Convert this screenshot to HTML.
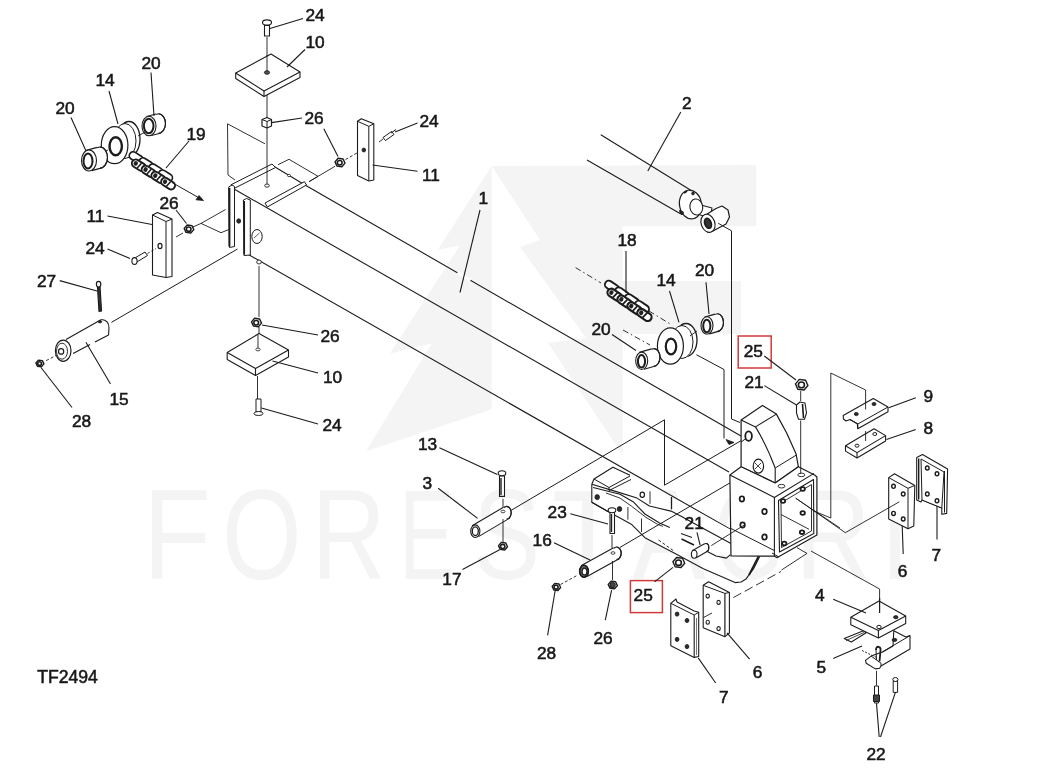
<!DOCTYPE html>
<html><head><meta charset="utf-8"><style>
html,body{margin:0;padding:0;background:#fff;width:1060px;height:777px;overflow:hidden}
svg{display:block;will-change:transform}
text{font-family:"Liberation Sans",sans-serif;fill:#181818;stroke:#181818;stroke-width:0.55px}
</style></head><body>
<svg width="1060" height="777" viewBox="0 0 1060 777">
<rect width="1060" height="777" fill="#fff"/>
<g fill="#f4f4f4"><path d="M491.6 166 L437.8 249.7 L459.7 245.8 L389.9 353.5 L431.8 343.5 L366 451.2 L491.6 409.3 Z"/><path d="M491.6 166 L756.3 165 L756.3 226.2 L622.5 226.2 L622.5 455 L548 343 L586 338 L520 247 L540 240 Z"/><path d="M622 281 L741 281 L741 334 L622 334 Z"/></g>
<text x="0" y="0" font-size="128" style="fill:#f4f4f4;stroke:none" transform="translate(142.7 579) scale(0.872 1)">F</text>
<text x="0" y="0" font-size="128" style="fill:#f4f4f4;stroke:none" transform="translate(221.9 579) scale(0.799 1)">O</text>
<text x="0" y="0" font-size="128" style="fill:#f4f4f4;stroke:none" transform="translate(311.4 579) scale(0.804 1)">R</text>
<text x="0" y="0" font-size="128" style="fill:#f4f4f4;stroke:none" transform="translate(399.1 579) scale(0.645 1)">E</text>
<text x="0" y="0" font-size="128" style="fill:#f4f4f4;stroke:none" transform="translate(473.0 579) scale(0.786 1)">S</text>
<text x="0" y="0" font-size="128" style="fill:#f4f4f4;stroke:none" transform="translate(552.1 579) scale(0.910 1)">T</text>
<text x="0" y="0" font-size="128" style="fill:#f4f4f4;stroke:none" transform="translate(632.0 579) scale(0.866 1)">A</text>
<text x="0" y="0" font-size="128" style="fill:#f4f4f4;stroke:none" transform="translate(713.5 579) scale(0.706 1)">G</text>
<text x="0" y="0" font-size="128" style="fill:#f4f4f4;stroke:none" transform="translate(795.3 579) scale(0.817 1)">R</text>
<text x="0" y="0" font-size="128" style="fill:#f4f4f4;stroke:none" transform="translate(880.1 579) scale(0.844 1)">I</text>
<path d="M272.5 165.5 L305.0 185.0 L741.0 436.0" fill="none" stroke="#1c1c1c" stroke-width="1.10" stroke-linejoin="round"/>
<path d="M234.0 189.0 L729.0 472.0" fill="none" stroke="#1c1c1c" stroke-width="1.10" stroke-linejoin="round"/>
<path d="M244.0 252.0 L772.0 553.0" fill="none" stroke="#1c1c1c" stroke-width="1.10" stroke-linejoin="round"/>
<path d="M231.0 184.8 L272.0 164.0 L275.5 167.5 L234.0 188.5Z" fill="#fff" stroke="#1c1c1c" stroke-width="1.00" stroke-linejoin="round"/>
<path d="M265.0 203.0 L304.4 181.7 L306.5 185.0 L267.3 207.0Z" fill="#fff" stroke="#1c1c1c" stroke-width="1.00" stroke-linejoin="round"/>
<path d="M228.7 187.0 L232.0 185.0 L234.5 186.5 L234.5 246.5 L229.5 247.5Z" fill="#fff" stroke="#1c1c1c" stroke-width="1.00" stroke-linejoin="round"/>
<path d="M229.4 188.0 L229.4 246.5" fill="none" stroke="#1c1c1c" stroke-width="2.00" stroke-linejoin="round"/>
<path d="M243.4 200.0 L246.5 198.5 L250.3 200.0 L250.3 255.0 L244.0 255.5Z" fill="#fff" stroke="#1c1c1c" stroke-width="1.00" stroke-linejoin="round"/>
<path d="M244.2 201.0 L244.2 254.5" fill="none" stroke="#1c1c1c" stroke-width="1.70" stroke-linejoin="round"/>
<ellipse cx="257.0" cy="236.5" rx="5.2" ry="7" fill="#fff" stroke="#1c1c1c" stroke-width="1.00"/>
<path d="M254.0 238.0 L259.5 233.0" fill="none" stroke="#1c1c1c" stroke-width="0.70" stroke-linejoin="round"/>
<ellipse cx="238.7" cy="221.0" rx="2" ry="2.2" fill="#2a2a2a" stroke="#1c1c1c" stroke-width="0.80"/>
<ellipse cx="267.0" cy="185.6" rx="2.3" ry="1.6" fill="#fff" stroke="#1c1c1c" stroke-width="0.90"/>
<ellipse cx="289.0" cy="175.5" rx="1.5" ry="1.2" fill="#fff" stroke="#1c1c1c" stroke-width="0.80"/>
<ellipse cx="259.0" cy="262.0" rx="2.3" ry="2" fill="#fff" stroke="#1c1c1c" stroke-width="0.90"/>
<path d="M227.5 123.8 L265.0 143.8" fill="none" stroke="#1c1c1c" stroke-width="0.90" stroke-linejoin="round"/>
<path d="M227.5 123.8 L228.0 175.0 L235.0 180.0" fill="none" stroke="#1c1c1c" stroke-width="0.90" stroke-linejoin="round"/>
<path d="M278.0 164.7 L289.0 159.3 L318.0 176.3 L309.0 181.7" fill="none" stroke="#1c1c1c" stroke-width="0.90" stroke-linejoin="round"/>
<path d="M309.0 181.7 L335.0 166.3" fill="none" stroke="#1c1c1c" stroke-width="0.90" stroke-linejoin="round"/>
<path d="M267.0 37.0 L267.0 118.0" fill="none" stroke="#1c1c1c" stroke-width="0.90" stroke-linejoin="round"/>
<path d="M267.0 128.0 L267.0 184.0" fill="none" stroke="#1c1c1c" stroke-width="0.90" stroke-linejoin="round"/>
<path d="M193.0 227.0 L201.0 223.4 L225.6 209.5" fill="none" stroke="#1c1c1c" stroke-width="0.90" stroke-linejoin="round"/>
<path d="M201.0 223.4 L221.0 232.7 L228.7 229.6" fill="none" stroke="#1c1c1c" stroke-width="0.90" stroke-linejoin="round"/>
<path d="M235.7 73.0 L271.0 54.0 L300.0 72.0 L300.0 77.5 L264.0 96.5 L235.7 78.5Z" fill="#fff" stroke="#1c1c1c" stroke-width="1.10" stroke-linejoin="round"/>
<path d="M235.7 73.0 L264.0 91.0 L300.0 72.0" fill="none" stroke="#1c1c1c" stroke-width="1.10" stroke-linejoin="round"/>
<path d="M264.0 91.0 L264.0 96.5" fill="none" stroke="#1c1c1c" stroke-width="1.10" stroke-linejoin="round"/>
<path d="M267.0 55.0 L267.0 71.0" fill="none" stroke="#1c1c1c" stroke-width="0.90" stroke-linejoin="round"/>
<ellipse cx="267.0" cy="72.5" rx="2.6" ry="1.7" fill="#555" stroke="#1c1c1c" stroke-width="1.00"/>
<path d="M264.5 25.5 L269.5 25.5 L269.5 36.0 L264.5 36.0Z" fill="#fff" stroke="#1c1c1c" stroke-width="1.10" stroke-linejoin="round"/>
<ellipse cx="267.0" cy="22.5" rx="4.5" ry="2.6" fill="#fff" stroke="#1c1c1c" stroke-width="1.10"/>
<path d="M270.0 28.5 L303.0 18.5" fill="none" stroke="#1c1c1c" stroke-width="1.10" stroke-linejoin="round"/>
<text x="305.4" y="20.9" font-size="17.3">24</text>
<path d="M287.0 67.0 L305.0 49.5" fill="none" stroke="#1c1c1c" stroke-width="1.10" stroke-linejoin="round"/>
<text x="305.4" y="48.4" font-size="17.3">10</text>
<path d="M262.0 119.5 L267.0 117.5 L271.5 119.5 L271.5 126.0 L267.0 128.0 L262.0 126.0Z" fill="#fff" stroke="#1c1c1c" stroke-width="1.20" stroke-linejoin="round"/>
<path d="M262.0 119.5 L267.0 121.5 L271.5 119.5" fill="none" stroke="#1c1c1c" stroke-width="1.00" stroke-linejoin="round"/>
<path d="M267.0 121.5 L267.0 128.0" fill="none" stroke="#1c1c1c" stroke-width="1.00" stroke-linejoin="round"/>
<path d="M271.5 122.6 L302.0 118.0" fill="none" stroke="#1c1c1c" stroke-width="1.10" stroke-linejoin="round"/>
<text x="304.4" y="124.4" font-size="17.3">26</text>
<path d="M345.0 163.1 L341.9 166.7 L336.9 166.0 L335.0 161.9 L338.1 158.3 L343.1 159.0Z" fill="#fff" stroke="#1c1c1c" stroke-width="1.40" stroke-linejoin="round"/>
<ellipse cx="339.7" cy="162.7" rx="2.4" ry="2.25" fill="#fff" stroke="#1c1c1c" stroke-width="1.60"/>
<path d="M323.8 128.8 L338.0 156.5" fill="none" stroke="#1c1c1c" stroke-width="1.10" stroke-linejoin="round"/>
<path d="M345.5 159.5 L360.0 151.3" fill="none" stroke="#1c1c1c" stroke-width="0.90" stroke-linejoin="round" stroke-dasharray="3 2"/>
<path d="M357.5 121.3 L361.3 118.8 L373.8 123.8 L373.8 180.0 L368.8 181.0 L357.5 175.5Z" fill="#fff" stroke="#1c1c1c" stroke-width="1.10" stroke-linejoin="round"/>
<path d="M357.5 121.3 L368.8 126.3 L373.8 123.8" fill="none" stroke="#1c1c1c" stroke-width="1.00" stroke-linejoin="round"/>
<path d="M368.8 126.3 L368.8 181.0" fill="none" stroke="#1c1c1c" stroke-width="1.00" stroke-linejoin="round"/>
<ellipse cx="363.8" cy="150.0" rx="1.8" ry="1.9800000000000002" fill="#2a2a2a" stroke="#1c1c1c" stroke-width="0.80"/>
<path d="M372.5 165.0 L417.5 171.3" fill="none" stroke="#1c1c1c" stroke-width="1.10" stroke-linejoin="round"/>
<text x="421.9" y="180.9" font-size="17.3">11</text>
<path d="M383.0 137.5 L391.5 131.5 L394.0 134.5 L385.5 140.5Z" fill="#fff" stroke="#1c1c1c" stroke-width="1.00" stroke-linejoin="round"/>
<path d="M391.0 133.0 L396.0 129.5" fill="none" stroke="#1c1c1c" stroke-width="1.00" stroke-linejoin="round"/>
<path d="M379.0 142.0 L383.0 139.0" fill="none" stroke="#1c1c1c" stroke-width="0.90" stroke-linejoin="round"/>
<path d="M395.0 132.0 L417.5 123.0" fill="none" stroke="#1c1c1c" stroke-width="1.10" stroke-linejoin="round"/>
<text x="419.4" y="127.4" font-size="17.3">24</text>
<path d="M151.5 135.5 L161.0 133.0 L156.0 114.0 L146.5 116.5Z" fill="#fff" stroke="none" stroke-width="0.00" stroke-linejoin="round"/>
<ellipse cx="158.5" cy="123.5" rx="7" ry="9.8" fill="#fff" stroke="#1c1c1c" stroke-width="1.10"/>
<path d="M151.5 135.5 L161.0 133.0 L156.0 114.0 L146.5 116.5Z" fill="#fff" stroke="none" stroke-width="0.00" stroke-linejoin="round"/>
<path d="M158.5 113.7 A7 9.8 0 0 1 158.5 133.3" fill="none" stroke="#1c1c1c" stroke-width="1.1"/>
<path d="M151.5 135.5 L161.0 133.0" fill="none" stroke="#1c1c1c" stroke-width="1.10" stroke-linejoin="round"/>
<path d="M146.5 116.5 L156.0 114.0" fill="none" stroke="#1c1c1c" stroke-width="1.10" stroke-linejoin="round"/>
<ellipse cx="149.0" cy="126.0" rx="7" ry="9.8" fill="#fff" stroke="#1c1c1c" stroke-width="1.10"/>
<ellipse cx="148.7" cy="126.0" rx="4.8" ry="7.2" fill="#fff" stroke="#1c1c1c" stroke-width="2.00"/>
<path d="M151.0 72.5 L154.0 116.0" fill="none" stroke="#1c1c1c" stroke-width="1.10" stroke-linejoin="round"/>
<text x="141.4" y="68.9" font-size="17.3">20</text>
<ellipse cx="129.0" cy="139.0" rx="11" ry="17.5" fill="#fff" stroke="#1c1c1c" stroke-width="1.30"/>
<ellipse cx="125.0" cy="141.0" rx="11" ry="17.5" fill="#fff" stroke="#1c1c1c" stroke-width="1.00"/>
<ellipse cx="114.6" cy="145.2" rx="13.3" ry="18.5" fill="#fff" stroke="#1c1c1c" stroke-width="1.20"/>
<ellipse cx="115.7" cy="146.3" rx="6.2" ry="9" fill="#fff" stroke="#1c1c1c" stroke-width="2.40"/>
<path d="M109.0 91.0 L118.0 124.0" fill="none" stroke="#1c1c1c" stroke-width="1.10" stroke-linejoin="round"/>
<text x="95.4" y="85.9" font-size="17.3">14</text>
<path d="M100.0 153.5 L108.0 150.0" fill="none" stroke="#1c1c1c" stroke-width="0.90" stroke-linejoin="round"/>
<path d="M138.0 136.0 L146.0 131.5" fill="none" stroke="#1c1c1c" stroke-width="0.90" stroke-linejoin="round"/>
<path d="M91.8 170.6 L102.8 167.6 L97.2 147.4 L86.2 150.4Z" fill="#fff" stroke="none" stroke-width="0.00" stroke-linejoin="round"/>
<ellipse cx="100.0" cy="157.5" rx="7.5" ry="10.5" fill="#fff" stroke="#1c1c1c" stroke-width="1.10"/>
<path d="M91.8 170.6 L102.8 167.6 L97.2 147.4 L86.2 150.4Z" fill="#fff" stroke="none" stroke-width="0.00" stroke-linejoin="round"/>
<path d="M100.0 147.0 A7.5 10.5 0 0 1 100.0 168.0" fill="none" stroke="#1c1c1c" stroke-width="1.1"/>
<path d="M91.8 170.6 L102.8 167.6" fill="none" stroke="#1c1c1c" stroke-width="1.10" stroke-linejoin="round"/>
<path d="M86.2 150.4 L97.2 147.4" fill="none" stroke="#1c1c1c" stroke-width="1.10" stroke-linejoin="round"/>
<ellipse cx="89.0" cy="160.5" rx="7.5" ry="10.5" fill="#fff" stroke="#1c1c1c" stroke-width="1.10"/>
<ellipse cx="88.0" cy="161.0" rx="4.5" ry="7.5" fill="#fff" stroke="#1c1c1c" stroke-width="2.00"/>
<path d="M71.0 117.5 L86.0 151.0" fill="none" stroke="#1c1c1c" stroke-width="1.10" stroke-linejoin="round"/>
<text x="55.4" y="113.9" font-size="17.3">20</text>
<g transform="translate(148 168) rotate(32)" stroke="#1c1c1c" fill="#fff"><rect x="-23.0" y="-6.5" width="15.0" height="7.8" rx="3.9" stroke-width="1.68"/><rect x="-11.5" y="-6.5" width="15.0" height="7.8" rx="3.9" stroke-width="1.68"/><rect x="0.0" y="-6.5" width="15.0" height="7.8" rx="3.9" stroke-width="1.68"/><rect x="11.5" y="-6.5" width="15.0" height="7.8" rx="3.9" stroke-width="1.68"/><rect x="-16.7" y="-1.3" width="15.0" height="7.8" rx="3.9" stroke-width="1.92"/><ellipse cx="-12.8" cy="2.6" rx="2.1" ry="2.4" fill="#222" stroke="none"/><path d="M-8.1 -0.6 L-9.2 6.0" stroke-width="1.56"/><rect x="-5.2" y="-1.3" width="15.0" height="7.8" rx="3.9" stroke-width="1.92"/><ellipse cx="-1.3" cy="2.6" rx="2.1" ry="2.4" fill="#222" stroke="none"/><path d="M3.4 -0.6 L2.3 6.0" stroke-width="1.56"/><rect x="6.3" y="-1.3" width="15.0" height="7.8" rx="3.9" stroke-width="1.92"/><ellipse cx="10.2" cy="2.6" rx="2.1" ry="2.4" fill="#222" stroke="none"/><path d="M14.9 -0.6 L13.8 6.0" stroke-width="1.56"/><rect x="17.8" y="-1.3" width="15.0" height="7.8" rx="3.9" stroke-width="1.92"/><ellipse cx="21.7" cy="2.6" rx="2.1" ry="2.4" fill="#222" stroke="none"/><path d="M26.4 -0.6 L25.3 6.0" stroke-width="1.56"/></g>
<path d="M189.0 141.0 L166.0 168.0" fill="none" stroke="#1c1c1c" stroke-width="1.10" stroke-linejoin="round"/>
<text x="186.4" y="139.9" font-size="17.3">19</text>
<path d="M172.0 182.5 L201.0 199.0" fill="none" stroke="#1c1c1c" stroke-width="1.00" stroke-linejoin="round"/>
<path d="M203.5 200.5 L196.0 199.8 L199.0 195.5Z" fill="#1c1c1c" stroke="#1c1c1c" stroke-width="0.80" stroke-linejoin="round"/>
<path d="M176.0 210.0 L186.5 223.5" fill="none" stroke="#1c1c1c" stroke-width="1.10" stroke-linejoin="round"/>
<text x="159.4" y="208.9" font-size="17.3">26</text>
<path d="M176.0 237.0 L183.0 233.0" fill="none" stroke="#1c1c1c" stroke-width="0.90" stroke-linejoin="round"/>
<path d="M193.8 229.6 L190.8 233.0 L186.0 232.4 L184.2 228.4 L187.2 225.0 L192.0 225.6Z" fill="#fff" stroke="#1c1c1c" stroke-width="1.40" stroke-linejoin="round"/>
<ellipse cx="188.7" cy="229.2" rx="2.304" ry="2.16" fill="#fff" stroke="#1c1c1c" stroke-width="1.60"/>
<path d="M152.5 215.0 L157.5 212.5 L172.0 219.0 L172.0 276.5 L166.0 277.5 L152.5 275.0Z" fill="#fff" stroke="#1c1c1c" stroke-width="1.10" stroke-linejoin="round"/>
<path d="M152.5 215.0 L166.0 221.5 L172.0 219.0" fill="none" stroke="#1c1c1c" stroke-width="1.00" stroke-linejoin="round"/>
<path d="M166.0 221.5 L166.0 277.5" fill="none" stroke="#1c1c1c" stroke-width="1.00" stroke-linejoin="round"/>
<ellipse cx="160.0" cy="246.0" rx="2" ry="2.6" fill="#fff" stroke="#1c1c1c" stroke-width="1.20"/>
<path d="M107.5 216.0 L152.0 224.5" fill="none" stroke="#1c1c1c" stroke-width="1.10" stroke-linejoin="round"/>
<text x="86.4" y="221.9" font-size="17.3">11</text>
<path d="M134.0 258.5 L145.0 252.0 L147.5 255.5 L136.0 262.5Z" fill="#fff" stroke="#1c1c1c" stroke-width="1.00" stroke-linejoin="round"/>
<ellipse cx="134.5" cy="261.0" rx="2.6" ry="3.4" fill="#fff" stroke="#1c1c1c" stroke-width="1.10"/>
<path d="M147.5 253.5 L156.0 248.5" fill="none" stroke="#1c1c1c" stroke-width="0.90" stroke-linejoin="round" stroke-dasharray="2.5 2"/>
<path d="M107.5 249.0 L130.0 258.5" fill="none" stroke="#1c1c1c" stroke-width="1.10" stroke-linejoin="round"/>
<text x="85.4" y="253.9" font-size="17.3">24</text>
<path d="M97.5 287.0 L100.0 286.5 L101.5 311.0 L99.0 311.5Z" fill="#333" stroke="#1c1c1c" stroke-width="1.20" stroke-linejoin="round"/>
<ellipse cx="98.6" cy="284.2" rx="2.2" ry="2.8" fill="#fff" stroke="#1c1c1c" stroke-width="1.20"/>
<path d="M59.7 280.6 L97.0 291.0" fill="none" stroke="#1c1c1c" stroke-width="1.10" stroke-linejoin="round"/>
<text x="36.9" y="286.9" font-size="17.3">27</text>
<path d="M111.4 322.4 L237.5 249.0" fill="none" stroke="#1c1c1c" stroke-width="1.00" stroke-linejoin="round"/>
<path d="M66.0 339.4 L101.4 319.5 L106.0 322.0 L108.5 328.0 L108.5 335.1 L73.1 353.5Z" fill="#fff" stroke="none" stroke-width="0.00" stroke-linejoin="round"/>
<path d="M66.0 339.4 L101.4 319.5" fill="none" stroke="#1c1c1c" stroke-width="1.10" stroke-linejoin="round"/>
<path d="M73.1 353.5 L90.0 344.6" fill="none" stroke="#1c1c1c" stroke-width="1.10" stroke-linejoin="round"/>
<path d="M95.0 342.0 L108.5 335.1" fill="none" stroke="#1c1c1c" stroke-width="1.10" stroke-linejoin="round"/>
<path d="M101.4 319.5 Q109 320 109 328 L108.5 335.1" fill="none" stroke="#1c1c1c" stroke-width="1.1"/>
<ellipse cx="63.2" cy="350.7" rx="7.8" ry="10.6" fill="#fff" stroke="#1c1c1c" stroke-width="1.20"/>
<ellipse cx="62.0" cy="351.2" rx="5.5" ry="8" fill="#fff" stroke="#1c1c1c" stroke-width="0.90"/>
<ellipse cx="61.1" cy="351.4" rx="2.6" ry="2.8" fill="#fff" stroke="#1c1c1c" stroke-width="1.20"/>
<ellipse cx="100.0" cy="321.7" rx="1.7" ry="1.2" fill="#2a2a2a" stroke="#1c1c1c" stroke-width="0.80"/>
<path d="M46.2 360.6 L56.0 355.5" fill="none" stroke="#1c1c1c" stroke-width="0.90" stroke-linejoin="round" stroke-dasharray="3 2"/>
<path d="M43.9 363.9 L41.4 366.7 L37.4 366.2 L35.9 362.9 L38.4 360.1 L42.4 360.6Z" fill="#fff" stroke="#1c1c1c" stroke-width="1.40" stroke-linejoin="round"/>
<ellipse cx="39.6" cy="363.6" rx="1.92" ry="1.8" fill="#fff" stroke="#1c1c1c" stroke-width="1.60"/>
<path d="M85.9 342.2 L110.5 384.0" fill="none" stroke="#1c1c1c" stroke-width="1.10" stroke-linejoin="round"/>
<text x="109.4" y="404.9" font-size="17.3">15</text>
<path d="M41.0 367.5 L72.0 407.5" fill="none" stroke="#1c1c1c" stroke-width="1.10" stroke-linejoin="round"/>
<text x="71.9" y="427.4" font-size="17.3">28</text>
<path d="M259.0 266.0 L259.0 317.0" fill="none" stroke="#1c1c1c" stroke-width="0.90" stroke-linejoin="round"/>
<path d="M261.5 323.1 L258.4 326.7 L253.4 326.0 L251.5 321.9 L254.6 318.3 L259.6 319.0Z" fill="#fff" stroke="#1c1c1c" stroke-width="1.40" stroke-linejoin="round"/>
<ellipse cx="256.2" cy="322.7" rx="2.4" ry="2.25" fill="#fff" stroke="#1c1c1c" stroke-width="1.60"/>
<path d="M262.0 325.0 L318.0 335.0" fill="none" stroke="#1c1c1c" stroke-width="1.10" stroke-linejoin="round"/>
<text x="320.4" y="342.4" font-size="17.3">26</text>
<path d="M259.0 327.0 L259.0 349.0" fill="none" stroke="#1c1c1c" stroke-width="0.90" stroke-linejoin="round"/>
<path d="M227.2 352.5 L259.0 333.5 L288.5 350.0 L288.5 357.0 L255.5 375.5 L227.2 359.5Z" fill="#fff" stroke="#1c1c1c" stroke-width="1.10" stroke-linejoin="round"/>
<path d="M227.2 352.5 L255.5 368.5 L288.5 350.0" fill="none" stroke="#1c1c1c" stroke-width="1.10" stroke-linejoin="round"/>
<path d="M255.5 368.5 L255.5 375.5" fill="none" stroke="#1c1c1c" stroke-width="1.10" stroke-linejoin="round"/>
<path d="M258.0 335.0 L258.0 348.0" fill="none" stroke="#1c1c1c" stroke-width="0.90" stroke-linejoin="round"/>
<ellipse cx="258.0" cy="349.5" rx="2.2" ry="1.4" fill="#fff" stroke="#1c1c1c" stroke-width="0.80"/>
<path d="M272.5 361.0 L318.0 373.0" fill="none" stroke="#1c1c1c" stroke-width="1.10" stroke-linejoin="round"/>
<text x="322.9" y="382.9" font-size="17.3">10</text>
<path d="M257.5 376.0 L257.5 399.0" fill="none" stroke="#1c1c1c" stroke-width="0.90" stroke-linejoin="round"/>
<path d="M256.0 399.0 L261.0 399.0 L261.0 412.0 L256.0 412.0Z" fill="#fff" stroke="#1c1c1c" stroke-width="1.00" stroke-linejoin="round"/>
<ellipse cx="258.5" cy="413.5" rx="4.5" ry="2" fill="#fff" stroke="#1c1c1c" stroke-width="1.00"/>
<path d="M261.5 408.0 L318.0 424.0" fill="none" stroke="#1c1c1c" stroke-width="1.10" stroke-linejoin="round"/>
<text x="322.4" y="430.9" font-size="17.3">24</text>
<path d="M457.5 272.6 L470.5 280.2" fill="none" stroke="#fff" stroke-width="3.00" stroke-linejoin="round"/>
<path d="M480.0 210.0 L460.0 292.5" fill="none" stroke="#1c1c1c" stroke-width="1.10" stroke-linejoin="round"/>
<text x="478.4" y="204.4" font-size="17.3">1</text>
<path d="M600.8 134.7 L692.0 191.0" fill="none" stroke="#1c1c1c" stroke-width="1.10" stroke-linejoin="round"/>
<path d="M587.0 160.0 L680.0 213.5" fill="none" stroke="#1c1c1c" stroke-width="1.10" stroke-linejoin="round"/>
<path d="M680.8 112.0 L647.8 171.0" fill="none" stroke="#1c1c1c" stroke-width="1.10" stroke-linejoin="round"/>
<text x="681.9" y="108.9" font-size="17.3">2</text>
<path d="M697.0 204.0 L712.0 208.0 L710.0 218.0 L694.0 213.0Z" fill="#fff" stroke="#1c1c1c" stroke-width="1.10" stroke-linejoin="round"/>
<ellipse cx="690.5" cy="204.5" rx="11" ry="14.5" fill="#fff" stroke="#1c1c1c" stroke-width="1.20" transform="rotate(-10 690.5 204.5)"/>
<ellipse cx="696.3" cy="207.0" rx="6.4" ry="8.1" fill="#fff" stroke="#1c1c1c" stroke-width="1.10" transform="rotate(-10 696.3 207.0)"/>
<path d="M684.0 193.0 L687.0 191.0" fill="none" stroke="#1c1c1c" stroke-width="2.00" stroke-linejoin="round"/>
<path d="M680.0 210.0 L681.0 214.0" fill="none" stroke="#1c1c1c" stroke-width="2.00" stroke-linejoin="round"/>
<ellipse cx="693.0" cy="193.5" rx="1.3" ry="1.4300000000000002" fill="#2a2a2a" stroke="#1c1c1c" stroke-width="0.80"/>
<ellipse cx="682.0" cy="213.0" rx="1.5" ry="1.6500000000000001" fill="#2a2a2a" stroke="#1c1c1c" stroke-width="0.80"/>
<path d="M704.0 216.0 L716.0 208.5 L722.0 206.0 L728.0 210.0 L729.5 217.0 L726.0 224.0 L713.0 231.0 L708.0 232.5Z" fill="#fff" stroke="#1c1c1c" stroke-width="1.20" stroke-linejoin="round"/>
<ellipse cx="708.0" cy="223.3" rx="6.8" ry="9.3" fill="#fff" stroke="#1c1c1c" stroke-width="1.20" transform="rotate(-20 708.0 223.3)"/>
<ellipse cx="708.0" cy="223.3" rx="3.2" ry="5.2" fill="#333" stroke="#1c1c1c" stroke-width="1.60" transform="rotate(-20 708.0 223.3)"/>
<path d="M718.3 223.3 L731.5 230.8 L731.5 419.0 L740.0 422.5" fill="none" stroke="#1c1c1c" stroke-width="1.00" stroke-linejoin="round"/>
<path d="M575.6 267.6 L601.0 283.0" fill="none" stroke="#1c1c1c" stroke-width="0.90" stroke-linejoin="round" stroke-dasharray="6 3 1.5 3"/>
<path d="M649.0 311.0 L671.0 324.5" fill="none" stroke="#1c1c1c" stroke-width="0.90" stroke-linejoin="round" stroke-dasharray="6 3 1.5 3"/>
<g transform="translate(624 298) rotate(34)" stroke="#1c1c1c" fill="#fff"><rect x="-24.0" y="-6.5" width="15.6" height="7.8" rx="3.9" stroke-width="1.89"/><rect x="-12.0" y="-6.5" width="15.6" height="7.8" rx="3.9" stroke-width="1.89"/><rect x="0.0" y="-6.5" width="15.6" height="7.8" rx="3.9" stroke-width="1.89"/><rect x="12.0" y="-6.5" width="15.6" height="7.8" rx="3.9" stroke-width="1.89"/><rect x="-17.4" y="-1.3" width="15.6" height="7.8" rx="3.9" stroke-width="2.16"/><ellipse cx="-13.5" cy="2.6" rx="2.1" ry="2.4" fill="#222" stroke="none"/><path d="M-8.4 -0.6 L-9.6 6.0" stroke-width="1.76"/><rect x="-5.4" y="-1.3" width="15.6" height="7.8" rx="3.9" stroke-width="2.16"/><ellipse cx="-1.5" cy="2.6" rx="2.1" ry="2.4" fill="#222" stroke="none"/><path d="M3.6 -0.6 L2.4 6.0" stroke-width="1.76"/><rect x="6.6" y="-1.3" width="15.6" height="7.8" rx="3.9" stroke-width="2.16"/><ellipse cx="10.5" cy="2.6" rx="2.1" ry="2.4" fill="#222" stroke="none"/><path d="M15.6 -0.6 L14.4 6.0" stroke-width="1.76"/><rect x="18.6" y="-1.3" width="15.6" height="7.8" rx="3.9" stroke-width="2.16"/><ellipse cx="22.5" cy="2.6" rx="2.1" ry="2.4" fill="#222" stroke="none"/><path d="M27.6 -0.6 L26.4 6.0" stroke-width="1.76"/></g>
<path d="M626.0 251.0 L626.0 293.0" fill="none" stroke="#1c1c1c" stroke-width="1.10" stroke-linejoin="round"/>
<text x="617.4" y="246.4" font-size="17.3">18</text>
<ellipse cx="686.0" cy="340.0" rx="11" ry="16.5" fill="#fff" stroke="#1c1c1c" stroke-width="1.30"/>
<ellipse cx="682.0" cy="342.0" rx="11" ry="16.5" fill="#fff" stroke="#1c1c1c" stroke-width="1.00"/>
<ellipse cx="670.4" cy="346.0" rx="13" ry="18.2" fill="#fff" stroke="#1c1c1c" stroke-width="1.20"/>
<ellipse cx="671.0" cy="346.5" rx="5.2" ry="7.8" fill="#fff" stroke="#1c1c1c" stroke-width="2.20"/>
<path d="M669.5 291.0 L679.0 322.3" fill="none" stroke="#1c1c1c" stroke-width="1.10" stroke-linejoin="round"/>
<text x="656.4" y="286.4" font-size="17.3">14</text>
<path d="M623.0 330.0 L650.0 345.0" fill="none" stroke="#1c1c1c" stroke-width="0.90" stroke-linejoin="round" stroke-dasharray="6 3 1.5 3"/>
<path d="M690.0 336.0 L697.0 331.0" fill="none" stroke="#1c1c1c" stroke-width="0.90" stroke-linejoin="round"/>
<path d="M709.4 333.9 L719.9 330.9 L715.1 314.1 L704.6 317.1Z" fill="#fff" stroke="none" stroke-width="0.00" stroke-linejoin="round"/>
<ellipse cx="717.5" cy="322.5" rx="6" ry="8.7" fill="#fff" stroke="#1c1c1c" stroke-width="1.10"/>
<path d="M709.4 333.9 L719.9 330.9 L715.1 314.1 L704.6 317.1Z" fill="#fff" stroke="none" stroke-width="0.00" stroke-linejoin="round"/>
<path d="M717.5 313.8 A6 8.7 0 0 1 717.5 331.2" fill="none" stroke="#1c1c1c" stroke-width="1.1"/>
<path d="M709.4 333.9 L719.9 330.9" fill="none" stroke="#1c1c1c" stroke-width="1.10" stroke-linejoin="round"/>
<path d="M704.6 317.1 L715.1 314.1" fill="none" stroke="#1c1c1c" stroke-width="1.10" stroke-linejoin="round"/>
<ellipse cx="707.0" cy="325.5" rx="6" ry="8.7" fill="#fff" stroke="#1c1c1c" stroke-width="1.10"/>
<ellipse cx="706.8" cy="326.0" rx="3.6" ry="6.2" fill="#fff" stroke="#1c1c1c" stroke-width="2.00"/>
<path d="M706.0 282.3 L709.0 314.0" fill="none" stroke="#1c1c1c" stroke-width="1.10" stroke-linejoin="round"/>
<text x="694.9" y="276.4" font-size="17.3">20</text>
<path d="M644.1 369.2 L656.4 365.7 L651.6 348.9 L639.3 352.4Z" fill="#fff" stroke="none" stroke-width="0.00" stroke-linejoin="round"/>
<ellipse cx="654.0" cy="357.3" rx="6" ry="8.7" fill="#fff" stroke="#1c1c1c" stroke-width="1.10"/>
<path d="M644.1 369.2 L656.4 365.7 L651.6 348.9 L639.3 352.4Z" fill="#fff" stroke="none" stroke-width="0.00" stroke-linejoin="round"/>
<path d="M654.0 348.6 A6 8.7 0 0 1 654.0 366.0" fill="none" stroke="#1c1c1c" stroke-width="1.1"/>
<path d="M644.1 369.2 L656.4 365.7" fill="none" stroke="#1c1c1c" stroke-width="1.10" stroke-linejoin="round"/>
<path d="M639.3 352.4 L651.6 348.9" fill="none" stroke="#1c1c1c" stroke-width="1.10" stroke-linejoin="round"/>
<ellipse cx="641.7" cy="360.8" rx="6" ry="8.7" fill="#fff" stroke="#1c1c1c" stroke-width="1.10"/>
<ellipse cx="641.5" cy="361.3" rx="3.6" ry="6.2" fill="#fff" stroke="#1c1c1c" stroke-width="2.00"/>
<path d="M612.0 334.5 L636.0 350.5" fill="none" stroke="#1c1c1c" stroke-width="1.10" stroke-linejoin="round"/>
<text x="591.4" y="334.9" font-size="17.3">20</text>
<path d="M696.4 354.7 L724.0 369.5 L724.0 438.5" fill="none" stroke="#1c1c1c" stroke-width="1.00" stroke-linejoin="round"/>
<path d="M726.0 439.5 L734.0 442.5 L729.0 444.5Z" fill="#1c1c1c" stroke="#1c1c1c" stroke-width="0.80" stroke-linejoin="round"/>
<path d="M591.8 484.3 L594.0 479.0 L612.9 467.2 L630.0 475.3 L673.0 498.0 L731.0 530.0 L731.0 556.0 L708.7 552.2 L673.2 552.5 L644.9 537.7 L620.0 518.0 L608.4 511.8 L591.8 502.3Z" fill="#fff" stroke="none" stroke-width="0.00" stroke-linejoin="round"/>
<path d="M591.8 484.3 L591.8 502.3 L608.4 511.8" fill="none" stroke="#1c1c1c" stroke-width="1.10" stroke-linejoin="round"/>
<path d="M591.8 484.3 L594.0 479.0 L612.9 467.2 L630.0 475.3" fill="none" stroke="#1c1c1c" stroke-width="1.10" stroke-linejoin="round"/>
<path d="M594.0 479.0 L609.0 487.5 L630.0 476.0" fill="none" stroke="#1c1c1c" stroke-width="1.00" stroke-linejoin="round"/>
<path d="M609.0 487.5 L609.0 490.5 L631.0 479.5" fill="none" stroke="#1c1c1c" stroke-width="1.00" stroke-linejoin="round"/>
<path d="M591.8 484.3 L614.7 491.1 L637.0 498.1 L649.4 506.0 L671.0 511.1 L681.1 516.2 L703.8 528.7 L731.0 543.4 L740.0 548.0" fill="none" stroke="#1c1c1c" stroke-width="1.10" stroke-linejoin="round"/>
<path d="M593.1 487.5 L620.0 494.2 L633.6 502.1 L644.9 514.0 L659.6 523.0 L669.8 527.5" fill="none" stroke="#1c1c1c" stroke-width="1.10" stroke-linejoin="round"/>
<path d="M606.0 493.0 L620.0 498.1 L631.3 506.0 L646.0 517.4 L657.4 524.2 L663.0 526.4" fill="none" stroke="#1c1c1c" stroke-width="0.90" stroke-linejoin="round"/>
<path d="M591.8 502.3 L608.4 511.8 L620.0 518.0 L631.3 524.2 L644.9 537.7 L673.2 552.5 L703.4 568.7 L735.1 582.6 L741.0 582.0 L745.7 579.3 L753.6 568.7 L761.5 552.8 L772.0 555.5" fill="none" stroke="#1c1c1c" stroke-width="1.10" stroke-linejoin="round"/>
<path d="M749.0 575.0 L760.0 553.5" fill="none" stroke="#1c1c1c" stroke-width="1.80" stroke-linejoin="round"/>
<path d="M730.4 554.7 L726.4 558.1 L716.0 556.0 L708.7 552.2 L700.0 547.0" fill="none" stroke="#1c1c1c" stroke-width="1.10" stroke-linejoin="round"/>
<ellipse cx="597.2" cy="497.1" rx="2.3" ry="2.53" fill="#2a2a2a" stroke="#1c1c1c" stroke-width="0.80"/>
<ellipse cx="619.5" cy="509.0" rx="2.3" ry="2.53" fill="#2a2a2a" stroke="#1c1c1c" stroke-width="0.80"/>
<ellipse cx="642.3" cy="494.7" rx="2.2" ry="2.6" fill="#fff" stroke="#1c1c1c" stroke-width="1.20"/>
<path d="M650.0 491.3 L650.0 503.8" fill="none" stroke="#1c1c1c" stroke-width="0.90" stroke-linejoin="round"/>
<path d="M671.5 497.0 L671.5 509.4" fill="none" stroke="#1c1c1c" stroke-width="1.30" stroke-linejoin="round"/>
<path d="M627.9 507.0 L627.9 519.6" fill="none" stroke="#1c1c1c" stroke-width="0.90" stroke-linejoin="round"/>
<path d="M641.5 518.5 L641.5 532.0" fill="none" stroke="#1c1c1c" stroke-width="0.90" stroke-linejoin="round"/>
<path d="M681.0 533.5 L692.0 537.5" fill="none" stroke="#1c1c1c" stroke-width="1.10" stroke-linejoin="round"/>
<path d="M681.5 539.0 L694.0 545.0" fill="none" stroke="#1c1c1c" stroke-width="1.50" stroke-linejoin="round"/>
<path d="M658.5 540.0 L674.3 551.3" fill="none" stroke="#1c1c1c" stroke-width="0.90" stroke-linejoin="round" stroke-dasharray="3 2"/>
<path d="M511.2 510.3 L664.5 419.8 L664.5 485.2 L745.7 438.0" fill="none" stroke="#1c1c1c" stroke-width="1.00" stroke-linejoin="round"/>
<path d="M620.0 547.4 L758.4 466.2" fill="none" stroke="#1c1c1c" stroke-width="1.00" stroke-linejoin="round"/>
<path d="M741.1 419.9 L762.5 405.4 L776.4 414.1 L786.8 433.2 L796.1 454.1 L798.4 466.8 L775.2 483.0 L741.1 466.8Z" fill="#fff" stroke="#1c1c1c" stroke-width="1.20" stroke-linejoin="round"/>
<path d="M741.1 419.9 L755.5 426.9 L776.4 414.1" fill="none" stroke="#1c1c1c" stroke-width="1.10" stroke-linejoin="round"/>
<path d="M755.5 426.9 Q766 444 775.2 468 L775.2 483" fill="none" stroke="#1c1c1c" stroke-width="1.1"/>
<path d="M775.2 468.0 L796.1 455.2" fill="none" stroke="#1c1c1c" stroke-width="1.00" stroke-linejoin="round"/>
<ellipse cx="748.6" cy="436.1" rx="3.3" ry="4.8" fill="#fff" stroke="#1c1c1c" stroke-width="1.80"/>
<path d="M741.2 442.0 L746.0 438.5" fill="none" stroke="#1c1c1c" stroke-width="1.00" stroke-linejoin="round"/>
<ellipse cx="758.4" cy="466.2" rx="5.2" ry="7" fill="#fff" stroke="#1c1c1c" stroke-width="1.20"/>
<path d="M755.0 469.0 L761.0 463.0" fill="none" stroke="#1c1c1c" stroke-width="0.80" stroke-linejoin="round"/>
<path d="M755.0 463.0 L761.0 469.0" fill="none" stroke="#1c1c1c" stroke-width="0.80" stroke-linejoin="round"/>
<path d="M729.9 474.9 L741.1 466.8 L775.2 483.0 L798.4 466.8 L814.6 475.0 L816.9 477.0 L816.9 535.0 L777.3 557.6 L774.4 556.2 L731.0 556.0Z" fill="#fff" stroke="#1c1c1c" stroke-width="1.20" stroke-linejoin="round"/>
<path d="M729.9 474.9 L774.4 497.5 L814.0 473.4" fill="none" stroke="#1c1c1c" stroke-width="1.10" stroke-linejoin="round"/>
<path d="M774.4 497.5 L774.4 556.2" fill="none" stroke="#1c1c1c" stroke-width="1.10" stroke-linejoin="round"/>
<path d="M778.5 500.5 L813.5 479.5 L813.8 533.5 L779.5 552.0Z" fill="#fff" stroke="#1c1c1c" stroke-width="1.10" stroke-linejoin="round"/>
<path d="M781.0 503.0 L811.5 484.5 L811.5 531.0 L781.5 547.5Z" fill="#fff" stroke="#1c1c1c" stroke-width="0.90" stroke-linejoin="round"/>
<path d="M781.0 514.5 L809.1 529.3" fill="none" stroke="#1c1c1c" stroke-width="0.90" stroke-linejoin="round"/>
<path d="M795.7 498.2 L840.0 528.0" fill="none" stroke="#1c1c1c" stroke-width="0.90" stroke-linejoin="round"/>
<ellipse cx="741.9" cy="498.9" rx="2.3" ry="2.6449999999999996" fill="#fff" stroke="#1c1c1c" stroke-width="1.70"/>
<ellipse cx="764.5" cy="511.6" rx="2.3" ry="2.6449999999999996" fill="#fff" stroke="#1c1c1c" stroke-width="1.70"/>
<ellipse cx="742.6" cy="525.1" rx="2.3" ry="2.6449999999999996" fill="#fff" stroke="#1c1c1c" stroke-width="1.70"/>
<ellipse cx="764.5" cy="537.1" rx="2.3" ry="2.6449999999999996" fill="#fff" stroke="#1c1c1c" stroke-width="1.70"/>
<ellipse cx="802.7" cy="489.0" rx="2.2" ry="1.8" fill="#fff" stroke="#1c1c1c" stroke-width="1.80"/>
<ellipse cx="802.7" cy="513.0" rx="2.2" ry="1.8" fill="#fff" stroke="#1c1c1c" stroke-width="1.80"/>
<ellipse cx="802.0" cy="532.2" rx="2.2" ry="1.8" fill="#fff" stroke="#1c1c1c" stroke-width="1.80"/>
<ellipse cx="783.0" cy="501.0" rx="2.2" ry="1.8" fill="#fff" stroke="#1c1c1c" stroke-width="1.80"/>
<ellipse cx="784.3" cy="543.5" rx="2.2" ry="1.8" fill="#fff" stroke="#1c1c1c" stroke-width="1.80"/>
<ellipse cx="781.5" cy="486.2" rx="3.5" ry="1.8" fill="#fff" stroke="#1c1c1c" stroke-width="0.90"/>
<ellipse cx="801.3" cy="474.9" rx="3.5" ry="1.8" fill="#fff" stroke="#1c1c1c" stroke-width="0.90"/>
<path d="M731.0 528.5 L774.4 550.6" fill="none" stroke="#1c1c1c" stroke-width="1.00" stroke-linejoin="round"/>
<path d="M772.0 553.0 L779.0 557.0" fill="none" stroke="#1c1c1c" stroke-width="1.00" stroke-linejoin="round"/>
<path d="M797.0 547.7 L807.0 553.4 L781.5 570.0" fill="none" stroke="#1c1c1c" stroke-width="0.90" stroke-linejoin="round"/>
<rect x="738.2" y="336" width="33" height="32" fill="none" stroke="#d03a3a" stroke-width="1.5"/>
<text x="743.7" y="356.6" font-size="17.3">25</text>
<path d="M764.3 356.0 L796.0 380.0" fill="none" stroke="#1c1c1c" stroke-width="1.10" stroke-linejoin="round"/>
<path d="M807.9 385.5 L804.1 390.0 L797.8 389.2 L795.5 383.9 L799.3 379.4 L805.6 380.2Z" fill="#fff" stroke="#1c1c1c" stroke-width="1.40" stroke-linejoin="round"/>
<ellipse cx="801.4" cy="384.9" rx="3.024" ry="2.835" fill="#fff" stroke="#1c1c1c" stroke-width="1.60"/>
<path d="M800.7 391.0 L800.7 401.0" fill="none" stroke="#1c1c1c" stroke-width="0.90" stroke-linejoin="round"/>
<path d="M796.5 405.0 L800.0 402.0 L805.0 403.0 L806.5 413.0 L804.5 419.3 L798.5 419.3 L796.5 413.0Z" fill="#fff" stroke="#1c1c1c" stroke-width="1.10" stroke-linejoin="round"/>
<path d="M802.5 404.0 L803.5 418.0" fill="none" stroke="#1c1c1c" stroke-width="1.60" stroke-linejoin="round"/>
<path d="M764.3 385.6 L796.5 405.0" fill="none" stroke="#1c1c1c" stroke-width="1.10" stroke-linejoin="round"/>
<text x="744.4" y="387.8" font-size="17.3">21</text>
<path d="M800.7 420.5 L800.7 473.8" fill="none" stroke="#1c1c1c" stroke-width="0.90" stroke-linejoin="round"/>
<path d="M830.8 373.0 L865.6 390.0 L865.6 409.4" fill="none" stroke="#1c1c1c" stroke-width="0.90" stroke-linejoin="round"/>
<path d="M830.8 373.0 L830.8 518.0 L814.0 511.0" fill="none" stroke="#1c1c1c" stroke-width="0.90" stroke-linejoin="round"/>
<path d="M843.2 415.6 L873.3 398.6 L888.0 407.0 L888.0 411.7 L857.8 428.7 L857.3 423.8 L850.0 419.5 L846.0 421.0 L843.5 419.0Z" fill="#fff" stroke="#1c1c1c" stroke-width="1.10" stroke-linejoin="round"/>
<path d="M850.0 419.5 L857.8 424.0 L888.0 407.0" fill="none" stroke="#1c1c1c" stroke-width="1.00" stroke-linejoin="round"/>
<path d="M857.8 424.0 L857.8 428.7" fill="none" stroke="#1c1c1c" stroke-width="1.00" stroke-linejoin="round"/>
<ellipse cx="856.3" cy="414.0" rx="2" ry="1.6" fill="#2a2a2a" stroke="#1c1c1c" stroke-width="0.80"/>
<ellipse cx="874.0" cy="404.0" rx="2" ry="1.6" fill="#2a2a2a" stroke="#1c1c1c" stroke-width="0.80"/>
<path d="M865.6 401.0 L865.6 409.5" fill="none" stroke="#1c1c1c" stroke-width="0.90" stroke-linejoin="round"/>
<path d="M888.7 407.8 L915.8 397.8" fill="none" stroke="#1c1c1c" stroke-width="1.10" stroke-linejoin="round"/>
<text x="923.6" y="402.0" font-size="17.3">9</text>
<path d="M845.5 445.7 L874.0 428.7 L885.6 435.6 L885.6 441.0 L857.0 458.0 L845.5 451.1Z" fill="#fff" stroke="#1c1c1c" stroke-width="1.10" stroke-linejoin="round"/>
<path d="M845.5 445.7 L857.0 452.6 L885.6 435.6" fill="none" stroke="#1c1c1c" stroke-width="1.10" stroke-linejoin="round"/>
<path d="M857.0 452.6 L857.0 458.0" fill="none" stroke="#1c1c1c" stroke-width="1.10" stroke-linejoin="round"/>
<ellipse cx="857.0" cy="445.7" rx="2" ry="1.5" fill="#fff" stroke="#1c1c1c" stroke-width="1.00"/>
<ellipse cx="874.8" cy="434.0" rx="2" ry="1.5" fill="#fff" stroke="#1c1c1c" stroke-width="1.00"/>
<path d="M865.6 431.0 L865.6 441.0" fill="none" stroke="#1c1c1c" stroke-width="0.90" stroke-linejoin="round"/>
<path d="M886.4 439.5 L915.8 429.5" fill="none" stroke="#1c1c1c" stroke-width="1.10" stroke-linejoin="round"/>
<text x="923.6" y="433.6" font-size="17.3">8</text>
<path d="M888.7 477.6 L894.5 473.8 L914.8 485.4 L913.8 526.0 L908.0 528.8 L888.7 519.0Z" fill="#fff" stroke="#1c1c1c" stroke-width="1.10" stroke-linejoin="round"/>
<path d="M888.7 477.6 L908.0 488.3 L914.8 485.4" fill="none" stroke="#1c1c1c" stroke-width="1.00" stroke-linejoin="round"/>
<path d="M908.0 488.3 L908.0 528.8" fill="none" stroke="#1c1c1c" stroke-width="1.00" stroke-linejoin="round"/>
<ellipse cx="893.5" cy="486.3" rx="1.8" ry="2.07" fill="#fff" stroke="#1c1c1c" stroke-width="1.40"/>
<ellipse cx="903.2" cy="494.0" rx="1.8" ry="2.07" fill="#fff" stroke="#1c1c1c" stroke-width="1.40"/>
<ellipse cx="893.5" cy="513.4" rx="1.8" ry="2.07" fill="#fff" stroke="#1c1c1c" stroke-width="1.40"/>
<ellipse cx="903.2" cy="519.0" rx="1.8" ry="2.07" fill="#fff" stroke="#1c1c1c" stroke-width="1.40"/>
<path d="M795.7 498.2 L845.3 532.7 L899.3 501.8" fill="none" stroke="#1c1c1c" stroke-width="0.90" stroke-linejoin="round"/>
<path d="M902.2 526.0 L903.2 554.0" fill="none" stroke="#1c1c1c" stroke-width="1.10" stroke-linejoin="round"/>
<text x="897.8" y="576.6" font-size="17.3">6</text>
<path d="M916.7 457.4 L922.5 454.5 L947.6 469.0 L946.7 513.4 L941.8 514.3 L941.8 508.0 L922.0 500.0 L921.0 502.0 L916.7 500.0Z" fill="#fff" stroke="#1c1c1c" stroke-width="1.10" stroke-linejoin="round"/>
<path d="M921.0 459.0 L944.0 472.0 L941.8 508.0 L922.0 500.0Z" fill="#fff" stroke="#1c1c1c" stroke-width="1.00" stroke-linejoin="round"/>
<path d="M918.7 458.5 L918.7 499.5" fill="none" stroke="#1c1c1c" stroke-width="1.40" stroke-linejoin="round"/>
<path d="M944.5 471.0 L944.5 512.5" fill="none" stroke="#1c1c1c" stroke-width="1.00" stroke-linejoin="round"/>
<ellipse cx="927.3" cy="468.0" rx="1.8" ry="2.07" fill="#fff" stroke="#1c1c1c" stroke-width="1.40"/>
<ellipse cx="937.0" cy="473.8" rx="1.8" ry="2.07" fill="#fff" stroke="#1c1c1c" stroke-width="1.40"/>
<ellipse cx="927.3" cy="494.0" rx="1.8" ry="2.07" fill="#fff" stroke="#1c1c1c" stroke-width="1.40"/>
<ellipse cx="937.0" cy="500.8" rx="1.8" ry="2.07" fill="#fff" stroke="#1c1c1c" stroke-width="1.40"/>
<path d="M937.0 506.0 L937.0 539.4" fill="none" stroke="#1c1c1c" stroke-width="1.10" stroke-linejoin="round"/>
<text x="931.4" y="561.2" font-size="17.3">7</text>
<path d="M733.3 597.6 L781.0 571.5" fill="none" stroke="#1c1c1c" stroke-width="0.90" stroke-linejoin="round" stroke-dasharray="9 4"/>
<path d="M811.0 551.0 L879.6 589.0 L879.6 614.3" fill="none" stroke="#1c1c1c" stroke-width="0.90" stroke-linejoin="round"/>
<path d="M844.2 638.4 L863.4 630.7 L866.2 632.8 L851.3 642.0Z" fill="#fff" stroke="#1c1c1c" stroke-width="1.10" stroke-linejoin="round"/>
<path d="M846.0 640.5 L864.0 632.5" fill="none" stroke="#1c1c1c" stroke-width="0.80" stroke-linejoin="round"/>
<path d="M893.8 630.7 L905.8 637.0 L910.0 635.6 L910.0 649.0 L881.0 666.0 L879.6 668.2 L875.4 668.9 L866.2 663.2 L865.5 660.4 L871.1 656.1 L882.5 651.9 L893.0 646.0Z" fill="#fff" stroke="#1c1c1c" stroke-width="1.10" stroke-linejoin="round"/>
<path d="M882.5 651.9 L910.0 635.6" fill="none" stroke="#1c1c1c" stroke-width="1.00" stroke-linejoin="round"/>
<path d="M893.0 646.0 L893.8 630.7" fill="none" stroke="#1c1c1c" stroke-width="0.00" stroke-linejoin="round"/>
<path d="M871.1 656.1 L881.0 663.2 L881.0 666.0" fill="none" stroke="#1c1c1c" stroke-width="1.00" stroke-linejoin="round"/>
<ellipse cx="894.5" cy="639.9" rx="2.4" ry="1.6" fill="#2a2a2a" stroke="#1c1c1c" stroke-width="0.80"/>
<path d="M876 650 Q876 646.5 878.5 646.8 Q881 647.2 880.5 650.5 L879.5 661.5" fill="none" stroke="#1c1c1c" stroke-width="1.8"/>
<path d="M876.0 650.0 L876.5 660.0" fill="none" stroke="#1c1c1c" stroke-width="1.00" stroke-linejoin="round"/>
<path d="M862.0 650.5 L876.8 657.6" fill="none" stroke="#1c1c1c" stroke-width="0.90" stroke-linejoin="round" stroke-dasharray="2 1.5"/>
<path d="M850.8 617.2 L879.0 601.0 L905.7 616.0 L905.7 623.5 L878.4 638.0 L850.8 624.7Z" fill="#fff" stroke="#1c1c1c" stroke-width="1.10" stroke-linejoin="round"/>
<path d="M850.8 617.2 L878.4 630.5 L905.7 616.0" fill="none" stroke="#1c1c1c" stroke-width="1.10" stroke-linejoin="round"/>
<path d="M878.4 630.5 L878.4 638.0" fill="none" stroke="#1c1c1c" stroke-width="1.10" stroke-linejoin="round"/>
<ellipse cx="895.8" cy="617.2" rx="2.2" ry="1.6" fill="#2a2a2a" stroke="#1c1c1c" stroke-width="0.80"/>
<ellipse cx="879.0" cy="627.0" rx="2.2" ry="1.7" fill="#fff" stroke="#1c1c1c" stroke-width="1.00"/>
<path d="M879.6 598.0 L879.6 613.0" fill="none" stroke="#1c1c1c" stroke-width="1.20" stroke-linejoin="round"/>
<path d="M833.2 599.2 L866.0 613.0" fill="none" stroke="#1c1c1c" stroke-width="1.10" stroke-linejoin="round"/>
<text x="815.1" y="601.4" font-size="17.3">4</text>
<path d="M833.2 658.6 L862.0 646.0" fill="none" stroke="#1c1c1c" stroke-width="1.10" stroke-linejoin="round"/>
<text x="816.4" y="673.1" font-size="17.3">5</text>
<path d="M876.5 670.8 L876.5 685.7" fill="none" stroke="#1c1c1c" stroke-width="0.90" stroke-linejoin="round"/>
<path d="M874.5 686.0 L878.5 686.0 L878.5 703.0 L874.5 703.0Z" fill="#fff" stroke="#1c1c1c" stroke-width="1.00" stroke-linejoin="round"/>
<path d="M873.5 695.0 L879.5 695.0 L879.5 701.5 L873.5 701.5Z" fill="#444" stroke="#1c1c1c" stroke-width="1.00" stroke-linejoin="round"/>
<path d="M893.2 681.0 L897.6 681.0 L897.6 692.4 L893.2 692.4Z" fill="#fff" stroke="#1c1c1c" stroke-width="1.00" stroke-linejoin="round"/>
<ellipse cx="895.4" cy="679.5" rx="2.6" ry="2" fill="#fff" stroke="#1c1c1c" stroke-width="1.00"/>
<path d="M876.5 703.2 L879.2 737.0" fill="none" stroke="#1c1c1c" stroke-width="1.10" stroke-linejoin="round"/>
<path d="M895.4 692.4 L880.5 737.0" fill="none" stroke="#1c1c1c" stroke-width="1.10" stroke-linejoin="round"/>
<text x="866.4" y="759.6" font-size="17.3">22</text>
<path d="M439.4 447.8 L497.3 474.4" fill="none" stroke="#1c1c1c" stroke-width="1.10" stroke-linejoin="round"/>
<text x="417.9" y="449.7" font-size="17.3">13</text>
<path d="M499.5 476.0 L504.5 476.0 L504.5 496.4 L499.5 496.4Z" fill="#fff" stroke="#1c1c1c" stroke-width="1.10" stroke-linejoin="round"/>
<path d="M501.0 478.0 L501.0 495.0" fill="none" stroke="#1c1c1c" stroke-width="1.40" stroke-linejoin="round"/>
<ellipse cx="502.0" cy="473.3" rx="3.8" ry="2.5" fill="#fff" stroke="#1c1c1c" stroke-width="1.10"/>
<path d="M503.0 498.8 L503.0 507.0" fill="none" stroke="#1c1c1c" stroke-width="0.90" stroke-linejoin="round"/>
<path d="M478.5 536.6 L509.8 518.1 L503.4 507.3 L472.1 525.8Z" fill="#fff" stroke="none" stroke-width="0.00" stroke-linejoin="round"/>
<ellipse cx="506.6" cy="512.7" rx="4.6" ry="6.3" fill="#fff" stroke="#1c1c1c" stroke-width="1.10"/>
<path d="M478.5 536.6 L509.8 518.1 L503.4 507.3 L472.1 525.8Z" fill="#fff" stroke="none" stroke-width="0.00" stroke-linejoin="round"/>
<path d="M506.6 506.4 A4.6 6.3 0 0 1 506.6 519.0" fill="none" stroke="#1c1c1c" stroke-width="1.1"/>
<path d="M478.5 536.6 L509.8 518.1" fill="none" stroke="#1c1c1c" stroke-width="1.10" stroke-linejoin="round"/>
<path d="M472.1 525.8 L503.4 507.3" fill="none" stroke="#1c1c1c" stroke-width="1.10" stroke-linejoin="round"/>
<ellipse cx="475.3" cy="531.2" rx="4.6" ry="6.3" fill="#fff" stroke="#1c1c1c" stroke-width="1.10"/>
<ellipse cx="475.3" cy="531.2" rx="3" ry="4.3" fill="#fff" stroke="#1c1c1c" stroke-width="1.30"/>
<ellipse cx="503.0" cy="511.5" rx="2" ry="1.3" fill="#fff" stroke="#1c1c1c" stroke-width="0.80"/>
<path d="M438.2 488.3 L477.6 518.4" fill="none" stroke="#1c1c1c" stroke-width="1.10" stroke-linejoin="round"/>
<text x="422.4" y="489.1" font-size="17.3">3</text>
<path d="M503.0 519.0 L503.0 542.0" fill="none" stroke="#1c1c1c" stroke-width="0.90" stroke-linejoin="round"/>
<path d="M507.5 546.8 L504.7 550.0 L500.2 549.4 L498.5 545.6 L501.3 542.4 L505.8 543.0Z" fill="#fff" stroke="#1c1c1c" stroke-width="1.40" stroke-linejoin="round"/>
<ellipse cx="502.7" cy="546.4" rx="2.16" ry="2.025" fill="#fff" stroke="#1c1c1c" stroke-width="1.60"/>
<path d="M499.6 549.7 L462.5 569.4" fill="none" stroke="#1c1c1c" stroke-width="1.10" stroke-linejoin="round"/>
<text x="442.3" y="585.2" font-size="17.3">17</text>
<path d="M570.3 513.8 L608.0 524.0" fill="none" stroke="#1c1c1c" stroke-width="1.10" stroke-linejoin="round"/>
<text x="547.6" y="518.0" font-size="17.3">23</text>
<path d="M610.0 512.0 L614.5 512.0 L614.5 533.5 L610.0 533.5Z" fill="#fff" stroke="#1c1c1c" stroke-width="1.10" stroke-linejoin="round"/>
<path d="M611.5 514.0 L611.5 532.0" fill="none" stroke="#1c1c1c" stroke-width="1.30" stroke-linejoin="round"/>
<ellipse cx="612.0" cy="510.3" rx="3.8" ry="2.5" fill="#fff" stroke="#1c1c1c" stroke-width="1.10"/>
<path d="M612.0 535.0 L612.0 548.0" fill="none" stroke="#1c1c1c" stroke-width="0.90" stroke-linejoin="round"/>
<path d="M587.0 576.6 L619.6 558.6 L613.6 547.8 L581.0 565.8Z" fill="#fff" stroke="none" stroke-width="0.00" stroke-linejoin="round"/>
<ellipse cx="616.6" cy="553.2" rx="4.6" ry="6.2" fill="#fff" stroke="#1c1c1c" stroke-width="1.10"/>
<path d="M587.0 576.6 L619.6 558.6 L613.6 547.8 L581.0 565.8Z" fill="#fff" stroke="none" stroke-width="0.00" stroke-linejoin="round"/>
<path d="M616.6 547.0 A4.6 6.2 0 0 1 616.6 559.4" fill="none" stroke="#1c1c1c" stroke-width="1.1"/>
<path d="M587.0 576.6 L619.6 558.6" fill="none" stroke="#1c1c1c" stroke-width="1.10" stroke-linejoin="round"/>
<path d="M581.0 565.8 L613.6 547.8" fill="none" stroke="#1c1c1c" stroke-width="1.10" stroke-linejoin="round"/>
<ellipse cx="584.0" cy="571.2" rx="4.6" ry="6.2" fill="#fff" stroke="#1c1c1c" stroke-width="1.10"/>
<ellipse cx="584.0" cy="571.2" rx="4.2" ry="5.8" fill="#666" stroke="#1c1c1c" stroke-width="1.40"/>
<ellipse cx="584.5" cy="571.5" rx="2.4" ry="3.4" fill="#fff" stroke="#1c1c1c" stroke-width="1.20"/>
<ellipse cx="613.0" cy="553.0" rx="2" ry="1.3" fill="#fff" stroke="#1c1c1c" stroke-width="0.80"/>
<path d="M554.0 542.8 L590.0 560.1" fill="none" stroke="#1c1c1c" stroke-width="1.10" stroke-linejoin="round"/>
<text x="532.6" y="545.8" font-size="17.3">16</text>
<path d="M560.5 584.5 L577.0 575.5" fill="none" stroke="#1c1c1c" stroke-width="0.90" stroke-linejoin="round" stroke-dasharray="3 2"/>
<path d="M560.6 587.5 L558.0 590.5 L553.8 590.0 L552.2 586.5 L554.8 583.5 L559.0 584.0Z" fill="#fff" stroke="#1c1c1c" stroke-width="1.40" stroke-linejoin="round"/>
<ellipse cx="556.1" cy="587.2" rx="2.016" ry="1.8900000000000001" fill="#fff" stroke="#1c1c1c" stroke-width="1.60"/>
<path d="M547.6 635.3 L555.1 591.0" fill="none" stroke="#1c1c1c" stroke-width="1.10" stroke-linejoin="round"/>
<text x="537.0" y="658.7" font-size="17.3">28</text>
<path d="M612.5 561.0 L612.5 580.0" fill="none" stroke="#1c1c1c" stroke-width="0.90" stroke-linejoin="round"/>
<path d="M617.4 585.6 L614.5 588.8 L610.0 588.3 L608.2 584.4 L611.1 581.2 L615.6 581.7Z" fill="#fff" stroke="#1c1c1c" stroke-width="1.40" stroke-linejoin="round"/>
<ellipse cx="612.5" cy="585.2" rx="2.2079999999999997" ry="2.07" fill="#fff" stroke="#1c1c1c" stroke-width="1.60"/>
<ellipse cx="612.8" cy="585.0" rx="2.6" ry="2.4" fill="#444" stroke="#1c1c1c" stroke-width="0.50"/>
<path d="M605.3 620.2 L611.6 590.1" fill="none" stroke="#1c1c1c" stroke-width="1.10" stroke-linejoin="round"/>
<text x="593.4" y="643.6" font-size="17.3">26</text>
<path d="M696.2 557.7 L708.0 551.0 L704.0 544.0 L692.2 550.7Z" fill="#fff" stroke="none" stroke-width="0.00" stroke-linejoin="round"/>
<ellipse cx="706.0" cy="547.5" rx="2.8" ry="4" fill="#fff" stroke="#1c1c1c" stroke-width="1.10"/>
<path d="M696.2 557.7 L708.0 551.0 L704.0 544.0 L692.2 550.7Z" fill="#fff" stroke="none" stroke-width="0.00" stroke-linejoin="round"/>
<path d="M706.0 543.5 A2.8 4 0 0 1 706.0 551.5" fill="none" stroke="#1c1c1c" stroke-width="1.1"/>
<path d="M696.2 557.7 L708.0 551.0" fill="none" stroke="#1c1c1c" stroke-width="1.10" stroke-linejoin="round"/>
<path d="M692.2 550.7 L704.0 544.0" fill="none" stroke="#1c1c1c" stroke-width="1.10" stroke-linejoin="round"/>
<ellipse cx="694.2" cy="554.2" rx="2.8" ry="4" fill="#fff" stroke="#1c1c1c" stroke-width="1.10"/>
<path d="M697.0 532.4 L700.1 545.0" fill="none" stroke="#1c1c1c" stroke-width="1.10" stroke-linejoin="round"/>
<path d="M711.3 545.6 L744.3 525.0" fill="none" stroke="#1c1c1c" stroke-width="0.90" stroke-linejoin="round"/>
<text x="684.6" y="529.3" font-size="17.3">21</text>
<path d="M684.7 563.3 L681.0 567.5 L675.1 566.8 L672.9 561.7 L676.6 557.5 L682.5 558.2Z" fill="#fff" stroke="#1c1c1c" stroke-width="1.40" stroke-linejoin="round"/>
<ellipse cx="678.5" cy="562.7" rx="2.88" ry="2.7" fill="#fff" stroke="#1c1c1c" stroke-width="1.60"/>
<rect x="630.4" y="580.6" width="32" height="32" fill="none" stroke="#d03a3a" stroke-width="1.5"/>
<text x="633.6" y="601.0" font-size="17.3">25</text>
<path d="M654.5 581.9 L673.0 567.4" fill="none" stroke="#1c1c1c" stroke-width="1.10" stroke-linejoin="round"/>
<path d="M703.2 585.3 L708.6 581.7 L729.4 592.5 L729.4 633.0 L724.9 636.7 L703.2 627.7Z" fill="#fff" stroke="#1c1c1c" stroke-width="1.10" stroke-linejoin="round"/>
<path d="M703.2 585.3 L724.9 593.4 L729.4 592.5" fill="none" stroke="#1c1c1c" stroke-width="1.00" stroke-linejoin="round"/>
<path d="M724.9 593.4 L724.9 636.7" fill="none" stroke="#1c1c1c" stroke-width="1.20" stroke-linejoin="round"/>
<ellipse cx="707.7" cy="596.1" rx="1.7" ry="2" fill="#fff" stroke="#1c1c1c" stroke-width="1.10"/>
<ellipse cx="718.6" cy="602.4" rx="1.7" ry="2" fill="#fff" stroke="#1c1c1c" stroke-width="1.10"/>
<ellipse cx="707.7" cy="622.3" rx="1.7" ry="2" fill="#fff" stroke="#1c1c1c" stroke-width="1.10"/>
<ellipse cx="718.6" cy="628.6" rx="1.7" ry="2" fill="#fff" stroke="#1c1c1c" stroke-width="1.10"/>
<path d="M703.5 617.5 L712.0 613.0" fill="none" stroke="#1c1c1c" stroke-width="0.90" stroke-linejoin="round"/>
<path d="M670.8 603.3 L676.0 599.0 L677.0 602.0 L694.2 611.0 L698.7 612.3 L698.7 656.5 L694.2 657.4 L670.8 645.7Z" fill="#fff" stroke="#1c1c1c" stroke-width="1.10" stroke-linejoin="round"/>
<path d="M694.2 615.0 L694.2 657.4" fill="none" stroke="#1c1c1c" stroke-width="1.10" stroke-linejoin="round"/>
<path d="M670.8 603.3 L694.2 615.0 L698.7 612.3" fill="none" stroke="#1c1c1c" stroke-width="1.00" stroke-linejoin="round"/>
<path d="M696.5 618.0 L696.5 655.0" fill="none" stroke="#1c1c1c" stroke-width="0.60" stroke-linejoin="round"/>
<ellipse cx="677.1" cy="614.1" rx="1.9" ry="2.09" fill="#2a2a2a" stroke="#1c1c1c" stroke-width="0.80"/>
<ellipse cx="687.0" cy="620.5" rx="1.9" ry="2.09" fill="#2a2a2a" stroke="#1c1c1c" stroke-width="0.80"/>
<ellipse cx="677.1" cy="639.4" rx="1.9" ry="2.09" fill="#2a2a2a" stroke="#1c1c1c" stroke-width="0.80"/>
<ellipse cx="687.0" cy="646.6" rx="1.9" ry="2.09" fill="#2a2a2a" stroke="#1c1c1c" stroke-width="0.80"/>
<path d="M727.0 632.8 L749.6 659.1" fill="none" stroke="#1c1c1c" stroke-width="1.10" stroke-linejoin="round"/>
<text x="752.8" y="677.6" font-size="17.3">6</text>
<path d="M698.2 657.9 L715.7 683.0" fill="none" stroke="#1c1c1c" stroke-width="1.10" stroke-linejoin="round"/>
<text x="718.9" y="702.6" font-size="17.3">7</text>
<text x="37.2" y="683.2" font-size="17.6">TF2494</text>
</svg></body></html>
